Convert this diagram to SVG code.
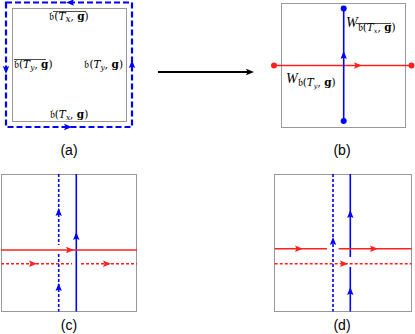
<svg xmlns="http://www.w3.org/2000/svg" xmlns:xlink="http://www.w3.org/1999/xlink" width="415" height="334" viewBox="0 0 415 334">
<style>
.frame{fill:none;stroke:#333;stroke-width:1;stroke-dasharray:1 1}
.bd{fill:none;stroke:#0000ff;stroke-width:2.2;stroke-dasharray:6 3}
.bs{fill:none;stroke:#0000ff;stroke-width:1.6}
.bdf{fill:none;stroke:#0000ff;stroke-width:1.6;stroke-dasharray:3 2}
.rs{fill:none;stroke:#ff2020;stroke-width:1.6}
.rdf{fill:none;stroke:#ff2020;stroke-width:1.4;stroke-dasharray:3 2}
.ov{stroke:#000;stroke-width:0.7}
.blue{fill:#0000ff}
.red{fill:#ff2020}
.math{font-family:"DejaVu Serif","Liberation Serif",serif;font-size:10.5px;fill:#000}
.wl{font-family:"Liberation Serif","DejaVu Serif",serif;font-size:14px;fill:#000}
.sub{font-size:9px}
.cap{font-family:"Liberation Sans",Arial,sans-serif;font-size:14px;fill:#000;text-anchor:middle}
</style>
<defs>
<path id="ah" d="M0,0 L-8,-3.2 L-6.5,0 L-8,3.2 Z"/>
</defs>

<g id="panel-a">
<rect class="frame" x="12.5" y="8.5" width="114" height="113"/>
<rect class="bd" x="6" y="2.5" width="126" height="124.5"/>
<use xlink:href="#ah" class="blue" transform="translate(66,2.5) rotate(180)"/>
<use xlink:href="#ah" class="blue" transform="translate(6,74) rotate(90)"/>
<use xlink:href="#ah" class="blue" transform="translate(132,60) rotate(-90)"/>
<use xlink:href="#ah" class="blue" transform="translate(72,127)"/>
<text class="math" x="69" y="20" text-anchor="middle">𝔟(<tspan font-style="italic">T<tspan class="sub" font-size="7.5px" dy="2">x</tspan></tspan><tspan dy="-2">, </tspan><tspan font-weight="bold">g</tspan>)</text>
<line class="ov" x1="53" y1="11.5" x2="86" y2="11.5"/>
<text class="math" x="14" y="68">𝔟(<tspan font-style="italic">T<tspan font-size="7.5px" dy="2">y</tspan></tspan><tspan dy="-2">, </tspan><tspan font-weight="bold">g</tspan>)</text>
<line class="ov" x1="14" y1="59.5" x2="46" y2="59.5"/>
<text class="math" x="123" y="68" text-anchor="end">𝔟(<tspan font-style="italic">T<tspan font-size="7.5px" dy="2">y</tspan></tspan><tspan dy="-2">, </tspan><tspan font-weight="bold">g</tspan>)</text>
<text class="math" x="69" y="118" text-anchor="middle">𝔟(<tspan font-style="italic">T<tspan font-size="7.5px" dy="2">x</tspan></tspan><tspan dy="-2">, </tspan><tspan font-weight="bold">g</tspan>)</text>
<text class="cap" x="69" y="155">(a)</text>
</g>

<g id="connectors">
<line x1="158" y1="72" x2="248" y2="72" stroke="#000" stroke-width="1.8"/>
<use xlink:href="#ah" fill="#000" transform="translate(254,72)"/>
</g>

<g id="panel-b">
<rect class="frame" x="281.5" y="3.5" width="124" height="124"/>
<line class="rs" x1="274" y1="65.5" x2="411.5" y2="65.5"/>
<circle class="red" cx="274" cy="65.5" r="3"/>
<circle class="red" cx="411.5" cy="65.5" r="3"/>
<use xlink:href="#ah" class="red" transform="translate(362,65.5)"/>
<line class="bs" x1="343.7" y1="8.5" x2="343.7" y2="121"/>
<circle class="blue" cx="343.7" cy="8.5" r="3"/>
<circle class="blue" cx="343.7" cy="121" r="3"/>
<use xlink:href="#ah" class="blue" transform="translate(343.7,51) rotate(-90)"/>
<text class="wl" x="346" y="27"><tspan font-style="italic">W</tspan><tspan class="math" font-size="9px" dy="4">𝔟(<tspan font-style="italic">T<tspan dy="1.5" font-size="6.5px">x</tspan></tspan><tspan dy="-1.5">, </tspan><tspan font-weight="bold">g</tspan>)</tspan></text>
<line class="ov" x1="356" y1="23.5" x2="391" y2="23.5"/>
<text class="wl" x="286" y="83"><tspan font-style="italic">W</tspan><tspan class="math" font-size="9px" dy="3">𝔟(<tspan font-style="italic">T<tspan dy="1.5" font-size="6.5px">y</tspan></tspan><tspan dy="-1.5">, </tspan><tspan font-weight="bold">g</tspan>)</tspan></text>
<text class="cap" x="342" y="155">(b)</text>
</g>

<g id="panel-c">
<rect class="frame" x="1.5" y="174.5" width="135" height="137"/>
<line class="bdf" x1="58.7" y1="174" x2="58.7" y2="245"/>
<line class="bdf" x1="58.7" y1="254" x2="58.7" y2="311.5"/>
<line class="bs" x1="76.3" y1="174" x2="76.3" y2="311.5"/>
<line class="rs" x1="1" y1="250" x2="137" y2="250"/>
<line class="rdf" x1="1" y1="263.7" x2="72" y2="263.7"/>
<line class="rdf" x1="81" y1="263.7" x2="137" y2="263.7"/>
<use xlink:href="#ah" class="blue" transform="translate(58.7,208) rotate(-90)"/>
<use xlink:href="#ah" class="blue" transform="translate(58.7,283) rotate(-90)"/>
<use xlink:href="#ah" class="blue" transform="translate(76.3,232) rotate(-90)"/>
<use xlink:href="#ah" class="red" transform="translate(74,250)"/>
<use xlink:href="#ah" class="red" transform="translate(37,263.7)"/>
<use xlink:href="#ah" class="red" transform="translate(111,263.7)"/>
<text class="cap" x="69" y="330">(c)</text>
</g>

<g id="panel-d">
<rect class="frame" x="274.5" y="174.5" width="137" height="137"/>
<line class="bdf" x1="333" y1="174" x2="333" y2="311.5"/>
<line class="bs" x1="350.3" y1="174" x2="350.3" y2="257"/>
<line class="bs" x1="350.3" y1="267" x2="350.3" y2="311.5"/>
<line class="rs" x1="274.7" y1="248.7" x2="327" y2="248.7"/>
<line class="rs" x1="338.7" y1="248.7" x2="411.7" y2="248.7"/>
<line class="rdf" x1="274.7" y1="263.7" x2="411.7" y2="263.7"/>
<use xlink:href="#ah" class="blue" transform="translate(350.3,210) rotate(-90)"/>
<use xlink:href="#ah" class="blue" transform="translate(350.3,287) rotate(-90)"/>
<use xlink:href="#ah" class="blue" transform="translate(333,237) rotate(-90)"/>
<use xlink:href="#ah" class="red" transform="translate(303,248.7)"/>
<use xlink:href="#ah" class="red" transform="translate(378,248.7)"/>
<use xlink:href="#ah" class="red" transform="translate(348,263.7)"/>
<text class="cap" x="342" y="330">(d)</text>
</g>
</svg>
